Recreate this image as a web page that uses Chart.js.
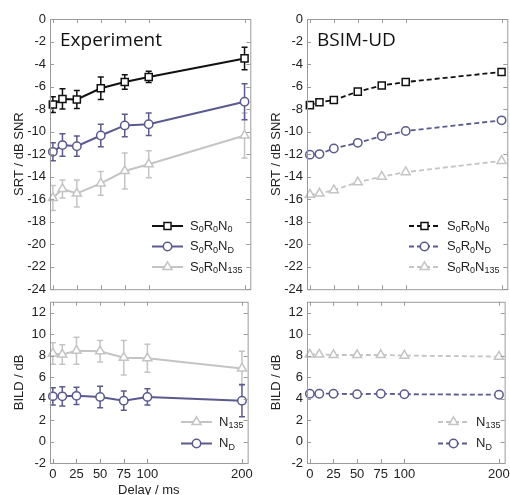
<!DOCTYPE html>
<html>
<head>
<meta charset="utf-8">
<script src="https://cdn.jsdelivr.net/npm/chart.js@4/dist/chart.umd.min.js"></script>
<style>
  body { margin: 0; background: #fff; overflow: hidden; width: 510px; height: 495px; position: relative; }
  canvas { position: absolute; }
</style>
</head>
<body>
<canvas id="expSrt" width="257" height="301" style="left:0;top:0"></canvas>
<canvas id="simSrt" width="257" height="301" style="left:257px;top:0"></canvas>
<canvas id="expBild" width="257" height="210" style="left:0;top:290px"></canvas>
<canvas id="simBild" width="257" height="210" style="left:257px;top:290px"></canvas>
<script>
// delays (ms) and axis ticks
const delays = [0, 10, 25, 50, 75, 100, 200];
const xTicks = [0, 25, 50, 75, 100, 200];
const srtTicks = [0, -2, -4, -6, -8, -10, -12, -14, -16, -18, -20, -22, -24];
const bildTicks = [12, 10, 8, 6, 4, 2, 0, -2];

// Experiment, SRT
const expN0 = [-7.6, -7.1, -7.15, -6.15, -5.6, -5.15, -3.5];
const expN0Err = [0.7, 0.9, 0.8, 1.0, 0.65, 0.5, 1.0];
const expND = [-11.8, -11.2, -11.3, -10.35, -9.45, -9.35, -7.35];
const expNDErr = [0.8, 1.0, 0.9, 1.0, 1.0, 1.0, 1.6];
const expN135 = [-15.9, -15.1, -15.5, -14.6, -13.5, -12.9, -10.35];
const expN135Err = [1.1, 0.8, 1.2, 1.05, 1.6, 1.2, 2.0];

// Experiment, BILD
const expBildN135 = [8.2, 8.1, 8.45, 8.4, 7.8, 7.75, 6.8];
const expBildN135Err = [1.0, 0.9, 1.25, 1.0, 1.6, 1.3, 1.6];
const expBildND = [4.2, 4.2, 4.25, 4.15, 3.8, 4.15, 3.8];
const expBildNDErr = [0.8, 0.9, 0.8, 1.0, 0.9, 0.75, 1.5];

// BSIM-UD model
const simN0 = [-7.65, -7.4, -7.2, -6.45, -5.9, -5.6, -4.7];
const simND = [-12.05, -12.0, -11.5, -11.0, -10.4, -9.95, -9.0];
const simN135 = [-15.6, -15.5, -15.2, -14.5, -14.0, -13.6, -12.6];
const simBildN135 = [8.1, 8.1, 8.05, 8.05, 8.05, 8.0, 7.9];
const simBildND = [4.45, 4.45, 4.45, 4.4, 4.45, 4.4, 4.35];

const BLACK = '#111111';
const BLUE = '#5a5a8e';
const GRAY = '#c4c4c4';
const FRAME = '#9a9a9a';
const FONT = '"Liberation Sans", Arial, sans-serif';

Chart.defaults.font.family = FONT;
Chart.defaults.font.size = 13;
Chart.defaults.color = '#222';

const styles = {
  n0: { color: BLACK, pointStyle: 'rect', radius: 5 },
  nd: { color: BLUE, pointStyle: 'circle', radius: 4.2 },
  n135: { color: GRAY, pointStyle: 'triangle', radius: 5.2 }
};

function serie(vals, err, st, dashed) {
  return {
    data: delays.map((d, i) => ({ x: d, y: vals[i] })),
    err: err,
    borderColor: st.color,
    backgroundColor: '#fff',
    borderWidth: dashed ? 1.8 : 2,
    borderDash: dashed ? [5, 3] : [],
    pointStyle: st.pointStyle,
    pointRadius: st.radius,
    pointBorderWidth: 1.5,
    pointBackgroundColor: '#fff',
    pointBorderColor: st.color,
    clip: false
  };
}

function drawSub(ctx, parts, x, y) {
  parts.forEach(([txt, sub]) => {
    ctx.font = (sub ? '9px ' : '13px ') + FONT;
    ctx.fillText(txt, x, sub ? y + 4 : y);
    x += ctx.measureText(txt).width;
  });
}

const errorBars = {
  id: 'errorBars',
  beforeDatasetsDraw(chart) {
    const { ctx, scales: { x, y } } = chart;
    chart.data.datasets.forEach(ds => {
      if (!ds.err) return;
      ctx.save();
      ctx.strokeStyle = ds.borderColor;
      ctx.lineWidth = 1.5;
      ds.data.forEach((p, i) => {
        const px = x.getPixelForValue(p.x);
        const y1 = y.getPixelForValue(p.y - ds.err[i]);
        const y2 = y.getPixelForValue(p.y + ds.err[i]);
        ctx.beginPath();
        ctx.moveTo(px, y1); ctx.lineTo(px, y2);
        ctx.moveTo(px - 3, y1); ctx.lineTo(px + 3, y1);
        ctx.moveTo(px - 3, y2); ctx.lineTo(px + 3, y2);
        ctx.stroke();
      });
      ctx.restore();
    });
  }
};

const frame = {
  id: 'frame',
  afterDraw(chart, args, opts) {
    const { ctx, chartArea: a, scales: { x, y } } = chart;
    ctx.save();
    ctx.strokeStyle = FRAME;
    ctx.lineWidth = 1;
    ctx.strokeRect(a.left + 0.5, a.top + 0.5, a.right - a.left, a.bottom - a.top);
    ctx.beginPath();
    xTicks.forEach(v => {
      const px = Math.round(x.getPixelForValue(v)) + 0.5;
      ctx.moveTo(px, a.bottom); ctx.lineTo(px, a.bottom - 4);
      ctx.moveTo(px, a.top); ctx.lineTo(px, a.top + 4);
    });
    opts.yTicks.forEach(v => {
      const py = Math.round(y.getPixelForValue(v)) + 0.5;
      ctx.moveTo(a.left, py); ctx.lineTo(a.left + 4, py);
      ctx.moveTo(a.right, py); ctx.lineTo(a.right - 4, py);
    });
    ctx.stroke();

    if (opts.title) {
      ctx.fillStyle = '#111';
      ctx.font = '19px "Open Sans", ' + FONT;
      ctx.textBaseline = 'alphabetic';
      ctx.fillText(opts.title, a.left + 10, 46);
    }

    // legend
    ctx.textBaseline = 'middle';
    opts.legend.forEach((item, i) => {
      const ly = opts.legendY + i * opts.legendGap;
      const st = styles[item.key];
      ctx.strokeStyle = st.color;
      ctx.lineWidth = opts.dashed ? 1.8 : 2;
      ctx.setLineDash(opts.dashed ? [5, 3] : []);
      ctx.beginPath();
      ctx.moveTo(opts.legendX, ly); ctx.lineTo(opts.legendX + 31, ly);
      ctx.stroke();
      ctx.setLineDash([]);
      ctx.fillStyle = '#fff';
      ctx.lineWidth = 1.5;
      Chart.helpers.drawPoint(ctx, { pointStyle: st.pointStyle, radius: st.radius, borderWidth: 1.5, rotation: 0 }, opts.legendX + 15.5, ly);
      ctx.fillStyle = '#222';
      drawSub(ctx, item.parts, opts.legendX + 38, ly);
    });
    ctx.restore();
  }
};

const srtLegend = [
  { key: 'n0', parts: [['S'], ['0', 1], ['R'], ['0', 1], ['N'], ['0', 1]] },
  { key: 'nd', parts: [['S'], ['0', 1], ['R'], ['0', 1], ['N'], ['D', 1]] },
  { key: 'n135', parts: [['S'], ['0', 1], ['R'], ['0', 1], ['N'], ['135', 1]] }
];
const bildLegend = [
  { key: 'n135', parts: [['N'], ['135', 1]] },
  { key: 'nd', parts: [['N'], ['D', 1]] }
];

function makeChart(id, datasets, cfg) {
  const top = cfg.kind === 'srt';
  new Chart(document.getElementById(id), {
    type: 'line',
    data: { datasets: datasets },
    plugins: [errorBars, frame],
    options: {
      responsive: false,
      animation: false,
      layout: { padding: top ? { top: 19, right: 6, bottom: 2, left: 0 } : { top: 9, right: 6, bottom: 0, left: 0 } },
      plugins: {
        legend: { display: false },
        tooltip: { enabled: false },
        frame: {
          yTicks: top ? srtTicks : bildTicks,
          title: cfg.title,
          legend: top ? srtLegend : bildLegend,
          legendX: top ? 152 : 181,
          legendY: top ? 226 : 132,
          legendGap: top ? 20.5 : 21.5,
          dashed: cfg.dashed
        }
      },
      scales: {
        x: {
          type: 'linear',
          min: -3,
          max: 206,
          display: !top,
          grid: { display: false, drawTicks: false },
          border: { display: false },
          ticks: { padding: 4, maxRotation: 0 },
          afterBuildTicks: s => { s.ticks = xTicks.map(v => ({ value: v })); },
          afterFit: s => { if (!top) s.height = 37; },
          title: { display: !top && cfg.xTitle, text: 'Delay / ms', padding: { top: 0, bottom: 2 } }
        },
        y: {
          type: 'linear',
          min: top ? -24 : -2,
          max: top ? 0 : 13,
          grid: { display: false, drawTicks: false },
          border: { display: false },
          ticks: { padding: 4 },
          afterBuildTicks: s => { s.ticks = (top ? srtTicks : bildTicks).map(v => ({ value: v })); },
          afterFit: s => { s.width = 50; },
          title: { display: true, text: top ? 'SRT / dB SNR' : 'BILD / dB', padding: { top: 12, bottom: 0 } }
        }
      }
    }
  });
}

makeChart('expSrt', [
  serie(expN0, expN0Err, styles.n0, false),
  serie(expND, expNDErr, styles.nd, false),
  serie(expN135, expN135Err, styles.n135, false)
].reverse(), { kind: 'srt', title: 'Experiment', dashed: false });

makeChart('simSrt', [
  serie(simN0, null, styles.n0, true),
  serie(simND, null, styles.nd, true),
  serie(simN135, null, styles.n135, true)
].reverse(), { kind: 'srt', title: 'BSIM-UD', dashed: true });

makeChart('expBild', [
  serie(expBildN135, expBildN135Err, styles.n135, false),
  serie(expBildND, expBildNDErr, styles.nd, false)
], { kind: 'bild', xTitle: true, dashed: false });

makeChart('simBild', [
  serie(simBildN135, null, styles.n135, true),
  serie(simBildND, null, styles.nd, true)
], { kind: 'bild', xTitle: false, dashed: true });
</script>
</body>
</html>
